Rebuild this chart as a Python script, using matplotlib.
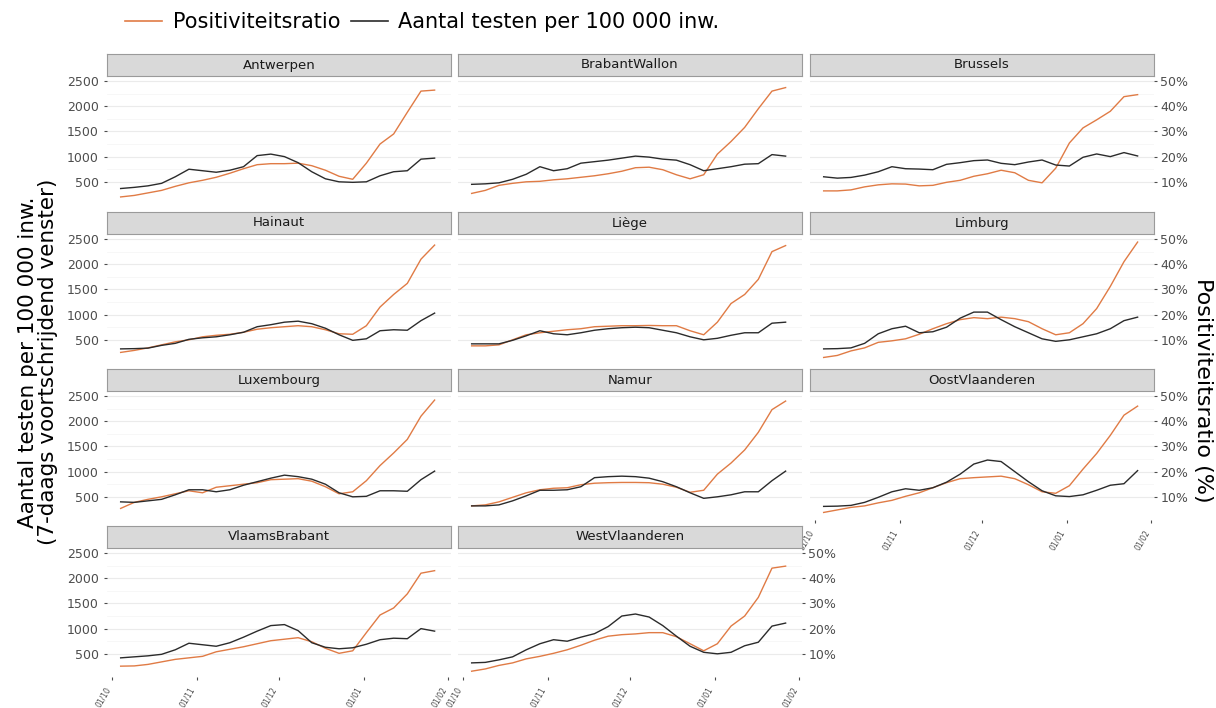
import matplotlib.pyplot as plt
import matplotlib.dates as mdates
import pandas as pd

dates = pd.date_range('2020-10-04', '2021-01-27', freq='5D')

# aantal testen per 100 000 inw. / positiviteitsratio (%)
antwerpen_tests = [367, 390, 420, 470, 600, 750, 720, 690, 730, 800, 1020, 1050, 1000, 880, 700, 560, 500, 490, 500, 620, 700, 720, 950, 970]
antwerpen_pos = [4.0, 4.6, 5.6, 6.6, 8.2, 9.6, 10.6, 11.8, 13.4, 15.2, 16.8, 17.2, 17.2, 17.4, 16.4, 14.6, 12.2, 11.0, 17.4, 25.0, 29.0, 37.6, 46.0, 46.4]

brabantwallon_tests = [450, 460, 480, 550, 650, 800, 720, 760, 870, 900, 930, 970, 1010, 990, 950, 930, 840, 720, 760, 800, 850, 860, 1040, 1010]
brabantwallon_pos = [5.4, 6.6, 8.6, 9.4, 10.0, 10.2, 10.8, 11.2, 11.8, 12.4, 13.2, 14.2, 15.6, 15.8, 14.8, 12.8, 11.2, 12.8, 21.0, 26.0, 31.6, 39.0, 46.0, 47.4]

brussels_tests = [600, 573, 587, 633, 700, 800, 760, 753, 740, 847, 880, 920, 933, 867, 840, 893, 933, 833, 813, 987, 1053, 1000, 1080, 1013]
brussels_pos = [6.4, 6.4, 6.8, 8.0, 8.8, 9.2, 9.1, 8.4, 8.6, 9.8, 10.6, 12.2, 13.2, 14.6, 13.6, 10.6, 9.6, 15.4, 25.4, 31.4, 34.6, 38.0, 43.8, 44.6]

hainaut_tests = [320, 325, 335, 390, 430, 510, 540, 560, 600, 650, 760, 800, 850, 870, 820, 730, 600, 490, 520, 680, 700, 690, 880, 1030]
hainaut_pos = [5.0, 5.8, 6.8, 8.0, 9.2, 10.0, 11.2, 11.8, 12.2, 13.0, 14.2, 14.8, 15.2, 15.6, 15.2, 14.0, 12.4, 12.2, 15.6, 23.0, 28.0, 32.4, 42.0, 47.6]

liege_tests = [420, 420, 420, 490, 580, 680, 620, 600, 640, 690, 720, 740, 750, 740, 690, 640, 560, 500, 530, 590, 640, 640, 830, 850]
liege_pos = [7.6, 7.6, 8.0, 10.0, 12.0, 12.8, 13.4, 14.0, 14.4, 15.2, 15.4, 15.6, 15.6, 15.7, 15.6, 15.6, 13.6, 12.0, 17.0, 24.4, 28.0, 34.0, 45.0, 47.4]

limburg_tests = [320, 325, 340, 430, 620, 720, 770, 640, 660, 750, 930, 1050, 1050, 900, 760, 640, 520, 470, 500, 560, 620, 720, 880, 950]
limburg_pos = [3.0, 3.8, 5.6, 6.8, 9.0, 9.6, 10.4, 12.2, 14.4, 16.4, 18.0, 18.8, 18.4, 19.0, 18.4, 17.2, 14.4, 12.0, 12.8, 16.4, 22.4, 31.2, 41.0, 48.8]

luxembourg_tests = [400, 390, 420, 450, 540, 640, 640, 600, 640, 730, 800, 870, 930, 900, 850, 750, 580, 500, 510, 620, 620, 610, 840, 1010]
luxembourg_pos = [5.4, 7.8, 9.0, 10.0, 11.2, 12.4, 11.6, 13.8, 14.4, 15.0, 15.6, 16.8, 17.0, 17.2, 16.2, 14.0, 11.2, 12.0, 16.4, 22.4, 27.4, 32.8, 42.0, 48.4]

namur_tests = [320, 320, 340, 420, 520, 630, 630, 640, 700, 880, 900, 910, 900, 870, 800, 700, 580, 470, 500, 540, 600, 600, 820, 1010]
namur_pos = [6.4, 6.8, 8.0, 9.8, 11.6, 12.8, 13.4, 13.6, 14.8, 15.4, 15.6, 15.7, 15.7, 15.6, 15.0, 13.8, 11.8, 12.6, 19.0, 23.4, 28.6, 35.6, 44.6, 48.0]

oostvl_tests = [310, 315, 330, 390, 490, 600, 660, 630, 680, 790, 950, 1150, 1230, 1200, 1000, 800, 620, 520, 505, 540, 630, 730, 760, 1020]
oostvl_pos = [3.8, 4.8, 5.8, 6.4, 7.6, 8.6, 10.2, 11.6, 13.6, 15.6, 17.2, 17.6, 17.9, 18.2, 17.2, 14.8, 12.0, 11.4, 14.4, 21.0, 27.2, 34.4, 42.4, 46.0]

vlbrabant_tests = [420, 440, 460, 490, 580, 710, 680, 650, 720, 830, 950, 1060, 1080, 960, 720, 630, 600, 620, 690, 780, 810, 800, 1000, 950]
vlbrabant_pos = [5.1, 5.2, 5.8, 6.8, 7.8, 8.4, 9.0, 10.8, 11.8, 12.8, 14.0, 15.2, 15.8, 16.4, 14.8, 12.2, 10.2, 11.2, 18.4, 25.4, 28.2, 33.8, 42.0, 43.0]

westvl_tests = [320, 330, 380, 440, 580, 700, 780, 750, 830, 900, 1040, 1250, 1290, 1230, 1060, 850, 650, 530, 500, 530, 660, 730, 1050, 1110]
westvl_pos = [3.1, 4.0, 5.4, 6.4, 8.0, 9.0, 10.2, 11.6, 13.4, 15.4, 17.0, 17.6, 17.9, 18.4, 18.4, 16.8, 14.0, 11.2, 14.0, 21.0, 25.0, 32.4, 44.0, 44.8]

panels = [
    ('Antwerpen', antwerpen_tests, antwerpen_pos),
    ('BrabantWallon', brabantwallon_tests, brabantwallon_pos),
    ('Brussels', brussels_tests, brussels_pos),
    ('Hainaut', hainaut_tests, hainaut_pos),
    ('Liège', liege_tests, liege_pos),
    ('Limburg', limburg_tests, limburg_pos),
    ('Luxembourg', luxembourg_tests, luxembourg_pos),
    ('Namur', namur_tests, namur_pos),
    ('OostVlaanderen', oostvl_tests, oostvl_pos),
    ('VlaamsBrabant', vlbrabant_tests, vlbrabant_pos),
    ('WestVlaanderen', westvl_tests, westvl_pos),
]

xticks = pd.to_datetime(['2020-10-01', '2020-11-01', '2020-12-01', '2021-01-01', '2021-02-01'])
ORANGE = '#E07B45'
BLACK = '#2b2b2b'
SCALE = 50  # 50% <-> 2500 testen

W, H = 1216, 708
fig = plt.figure(figsize=(W / 100, H / 100), dpi=100)

def box(x, y, w, h):
    return [x / W, 1 - (y + h) / H, w / W, h / H]

col_x = [107, 458, 810]
col_w = 344
strip_top = [54, 212, 369, 526]
strip_h = 23
panel_h = 128

for i, (name, tests, pos) in enumerate(panels):
    row, col = i // 3, i % 3
    ax = fig.add_axes(box(col_x[col], strip_top[row] + strip_h, col_w, panel_h))
    ax.plot(dates, [p * SCALE for p in pos], color=ORANGE, lw=1.0)
    ax.plot(dates, tests, color=BLACK, lw=1.0)
    ax.set_xlim(pd.Timestamp('2020-09-29'), pd.Timestamp('2021-02-02'))
    ax.set_ylim(40, 2580)
    ax.set_yticks([500, 1000, 1500, 2000, 2500])
    ax.set_yticks([750, 1250, 1750, 2250], minor=True)
    ax.grid(axis='y', which='major', color='#EBEBEB', lw=0.8)
    ax.grid(axis='y', which='minor', color='#F4F4F4', lw=0.5)
    ax.set_axisbelow(True)
    for s in ax.spines.values():
        s.set_visible(False)
    ax.tick_params(axis='y', which='minor', length=0)
    ax.tick_params(axis='both', which='major', colors='#4D4D4D', labelsize=9, length=2.5, width=0.8)
    ax.set_xticks(xticks)
    ax.xaxis.set_major_formatter(mdates.DateFormatter('%d/%m'))
    plt.setp(ax.get_xticklabels(), rotation=60, ha='right', va='top', fontsize=5.5)
    if col != 0:
        ax.tick_params(axis='y', left=False, labelleft=False)
    if i not in (8, 9, 10):
        ax.tick_params(axis='x', bottom=False, labelbottom=False)
    if i in (2, 5, 8, 10):
        sec = ax.secondary_yaxis('right', functions=(lambda v: v / SCALE, lambda p: p * SCALE))
        sec.set_yticks([10, 20, 30, 40, 50])
        sec.set_yticklabels(['10%', '20%', '30%', '40%', '50%'])
        sec.spines['right'].set_visible(False)
        sec.tick_params(colors='#4D4D4D', labelsize=9, length=2.5, width=0.8, pad=2)

    st = fig.add_axes(box(col_x[col], strip_top[row], col_w, strip_h - 1))
    st.set_facecolor('#D9D9D9')
    st.set_xticks([])
    st.set_yticks([])
    for s in st.spines.values():
        s.set_color('#9A9A9A')
        s.set_linewidth(0.8)
    st.text(0.5, 0.5, name, ha='center', va='center', fontsize=9.5, color='#1A1A1A', transform=st.transAxes)

# legenda
h1, = plt.plot([], [], color=ORANGE, lw=1.2, label='Positiviteitsratio')
h2, = plt.plot([], [], color=BLACK, lw=1.2, label='Aantal testen per 100 000 inw.')
fig.legend(handles=[h1, h2], loc='center left', bbox_to_anchor=(106 / W, 1 - 22 / H), ncol=2,
           frameon=False, fontsize=15, handlelength=1.8, handletextpad=0.5, columnspacing=0.5)

fig.text(38 / W, 1 - 362 / H, 'Aantal testen per 100 000 inw.\n(7-daags voortschrijdend venster)',
         rotation=90, ha='center', va='center', fontsize=15.5, linespacing=0.95)
fig.text(1203 / W, 1 - 390 / H, 'Positiviteitsratio (%)', rotation=270, ha='center', va='center', fontsize=16)

fig.savefig('out.png', dpi=100)
